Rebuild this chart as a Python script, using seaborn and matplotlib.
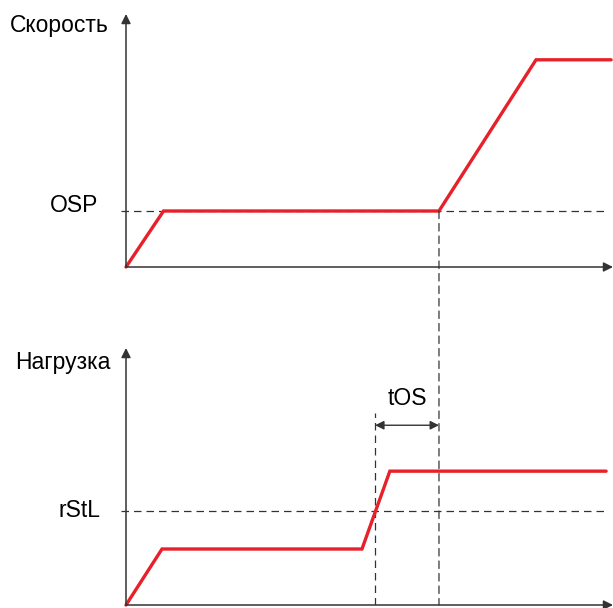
import matplotlib
matplotlib.use("Agg")
import matplotlib.pyplot as plt
from matplotlib.patches import ConnectionPatch
import pandas as pd
import seaborn as sns

# --- data (time in arbitrary units, levels relative to plateau) ---
speed_t = [0, 1.2, 10.0, 13.1, 15.5]
speed_v = [0, 1.0, 1.0, 3.7, 3.7]
load_t = [0, 1.15, 7.54, 8.43, 15.34]
load_v = [0, 1.0, 1.0, 2.39, 2.39]

osp_level = 1.0
rstl_level = 1.68
t_switch = 10.0      # speed leaves OSP
t_load_cross = 7.96  # load crosses rStL
t_max = 15.56

RED = "#e8202a"
DARK = "#333333"
FS = 16.5

sns.set_style("white")
plt.rcParams["font.family"] = ["Liberation Sans", "DejaVu Sans"]
plt.rcParams["text.color"] = "black"

fig = plt.figure(figsize=(6.13, 6.08), dpi=100)
W, H = 613, 608
ax1 = fig.add_axes([126 / W, (H - 267) / H, (W - 126) / W, 253 / H])
ax2 = fig.add_axes([126 / W, (H - 605) / H, (W - 126) / W, 257 / H])

ax1.set_xlim(0, t_max)
ax1.set_ylim(0, 253 / 56)
ax2.set_xlim(0, t_max)
ax2.set_ylim(0, 257 / 56)

for ax in (ax1, ax2):
    for s in ax.spines.values():
        s.set_visible(False)
    ax.set_xticks([])
    ax.set_yticks([])
    ax.patch.set_alpha(0)
    # axes with arrow heads
    ax.annotate("", xy=(0, 1), xytext=(0, 0), xycoords="axes fraction",
                arrowprops=dict(arrowstyle="-|>", color=DARK, lw=1.1,
                                mutation_scale=14, shrinkA=0, shrinkB=0),
                annotation_clip=False)
    ax.annotate("", xy=(1, 0), xytext=(0, 0), xycoords="axes fraction",
                arrowprops=dict(arrowstyle="-|>", color=DARK, lw=1.1,
                                mutation_scale=14, shrinkA=0, shrinkB=0),
                annotation_clip=False)

dash = dict(color=DARK, lw=0.9, linestyle=(0, (6, 4)))

# --- speed panel ---
ax1.hlines(osp_level, -0.16, t_max - 0.2, clip_on=False, **dash)
sns.lineplot(x=speed_t, y=speed_v, ax=ax1, color=RED, lw=2.4,
             solid_joinstyle="miter", clip_on=False)
ax1.text(-0.9, osp_level + 0.1, "OSP", ha="right", va="center", fontsize=FS)
ax1.text(-3.7, 4.32, "Скорость", ha="left", va="center", fontsize=FS)

# --- load panel ---
ax2.hlines(rstl_level, -0.16, t_max - 0.2, clip_on=False, **dash)
ax2.vlines(t_load_cross, 0, 3.43, **dash)
sns.lineplot(x=load_t, y=load_v, ax=ax2, color=RED, lw=2.4,
             solid_joinstyle="miter", clip_on=False)
ax2.text(-0.83, rstl_level, "rStL", ha="right", va="center", fontsize=FS)
ax2.text(-3.55, 4.33, "Нагрузка", ha="left", va="center", fontsize=FS)

ax2.annotate("", xy=(t_switch, 3.21), xytext=(t_load_cross, 3.21),
             arrowprops=dict(arrowstyle="<|-|>", color=DARK, lw=1.0,
                             mutation_scale=13, shrinkA=0, shrinkB=0))
ax2.text((t_switch + t_load_cross) / 2, 3.68, "tOS", ha="center",
         va="center", fontsize=FS)

# dashed line from OSP leaving point down to the load time axis
con = ConnectionPatch(xyA=(t_switch, osp_level), coordsA=ax1.transData,
                      xyB=(t_switch, 0), coordsB=ax2.transData, **dash)
fig.add_artist(con)

for ax in (ax1, ax2):
    ax.set_xlabel("")
    ax.set_ylabel("")

fig.savefig("out.png", dpi=100)
